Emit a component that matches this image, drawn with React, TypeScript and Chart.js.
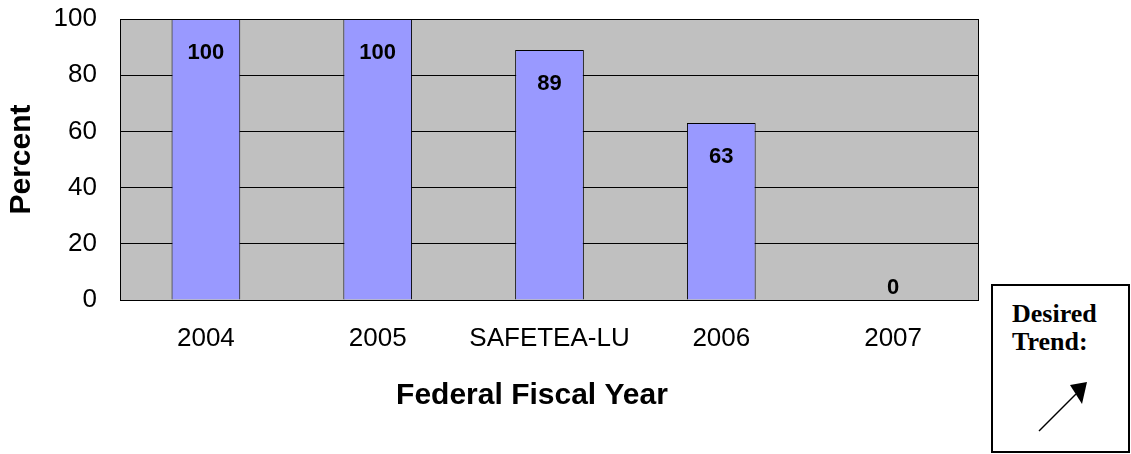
import React, { useEffect, useRef } from "react";
import { Chart, registerables } from "chart.js";

Chart.register(...registerables);

const categories = ["2004", "2005", "SAFETEA-LU", "2006", "2007"];
const percentValues = [100, 100, 89, 63, 0];
const yTicks = [0, 20, 40, 60, 80, 100];
const yTitle = "Percent";
const xTitle = "Federal Fiscal Year";
const trendLines = ["Desired", "Trend:"];

const SANS = "'Liberation Sans', Arial, sans-serif";
const SERIF = "'Liberation Serif', 'Times New Roman', serif";

const plotBgPlugin = {
  id: "plotBg",
  beforeDraw(chart: any) {
    const { ctx, chartArea } = chart;
    ctx.save();
    ctx.fillStyle = "#C0C0C0";
    ctx.fillRect(chartArea.left, chartArea.top, chartArea.right - chartArea.left, chartArea.bottom - chartArea.top);
    ctx.restore();
  },
  afterDatasetsDraw(chart: any) {
    const { ctx, chartArea } = chart;
    ctx.save();
    ctx.strokeStyle = "#000";
    ctx.lineWidth = 1;
    ctx.strokeRect(
      Math.round(chartArea.left) + 0.5,
      Math.round(chartArea.top) + 0.5,
      Math.round(chartArea.right - chartArea.left) - 1,
      Math.round(chartArea.bottom - chartArea.top)
    );
    // value labels
    const meta = chart.getDatasetMeta(0);
    const data = chart.data.datasets[0].data as number[];
    ctx.fillStyle = "#000";
    ctx.font = `bold 22px ${SANS}`;
    ctx.textAlign = "center";
    ctx.textBaseline = "middle";
    meta.data.forEach((el: any, i: number) => {
      const v = data[i];
      const y = v >= 10 ? el.y + 34 : el.base - 12;
      ctx.fillText(String(v), el.x, y);
    });
    // axis titles
    ctx.font = `bold 30px ${SANS}`;
    ctx.fillText(xTitle, 532, 396);
    ctx.save();
    ctx.translate(22, (chartArea.top + chartArea.bottom) / 2);
    ctx.rotate(-Math.PI / 2);
    ctx.fillText(yTitle, 0, 0);
    ctx.restore();
    ctx.restore();
  },
};

export default function App() {
  const canvasRef = useRef<HTMLCanvasElement | null>(null);

  useEffect(() => {
    if (!canvasRef.current) return;
    const chart = new Chart(canvasRef.current, {
      type: "bar",
      data: {
        labels: categories,
        datasets: [
          {
            data: percentValues,
            backgroundColor: "#9999FF",
            borderColor: "#000000",
            borderWidth: 1,
            barPercentage: 0.4,
            categoryPercentage: 1.0,
          },
        ],
      },
      options: {
        responsive: false,
        animation: false,
        devicePixelRatio: 1,
        layout: { padding: { top: 19, right: 152, bottom: 0, left: 0 } },
        plugins: {
          legend: { display: false },
          tooltip: { enabled: false },
          title: { display: false },
        },
        scales: {
          x: {
            grid: { display: false, drawTicks: false },
            border: { display: false },
            ticks: {
              color: "#000",
              font: { family: SANS, size: 26 },
              padding: 23,
              maxRotation: 0,
              autoSkip: false,
            },
            afterFit(scale: any) {
              scale.height = 154;
              scale.paddingTop = 0;
              scale.paddingBottom = 0;
            },
          },
          y: {
            min: 0,
            max: 100,
            grid: { color: "#000", lineWidth: 1, drawTicks: false },
            border: { display: false },
            ticks: {
              color: "#000",
              font: { family: SANS, size: 26 },
              padding: 23,
              stepSize: 20,
              callback: (v: any) => (yTicks.includes(Number(v)) ? String(v) : ""),
            },
            afterFit(scale: any) {
              scale.width = 120;
              scale.paddingTop = 0;
              scale.paddingBottom = 0;
            },
          },
        },
      },
      plugins: [plotBgPlugin],
    });
    return () => chart.destroy();
  }, []);

  return (
    <div style={{ position: "absolute", left: 0, top: 0, width: 1131, height: 454, background: "#fff" }}>
      <canvas ref={canvasRef} width={1131} height={454} style={{ display: "block" }} />
      <svg
        width={1131}
        height={454}
        style={{ position: "absolute", left: 0, top: 0, pointerEvents: "none" }}
      >
        <rect x={992} y={285} width={137} height={167} fill="#fff" stroke="#000" strokeWidth={2} />
        <text x={1012} y={322} fontFamily={SERIF} fontWeight="bold" fontSize={26} fill="#000">
          {trendLines[0]}
        </text>
        <text x={1012} y={350} fontFamily={SERIF} fontWeight="bold" fontSize={26} fill="#000">
          {trendLines[1]}
        </text>
        <line x1={1039} y1={431} x2={1076} y2={394} stroke="#000" strokeWidth={1.5} />
        <polygon points="1087,382 1070,385 1082,404" fill="#000" />
      </svg>
    </div>
  );
}
